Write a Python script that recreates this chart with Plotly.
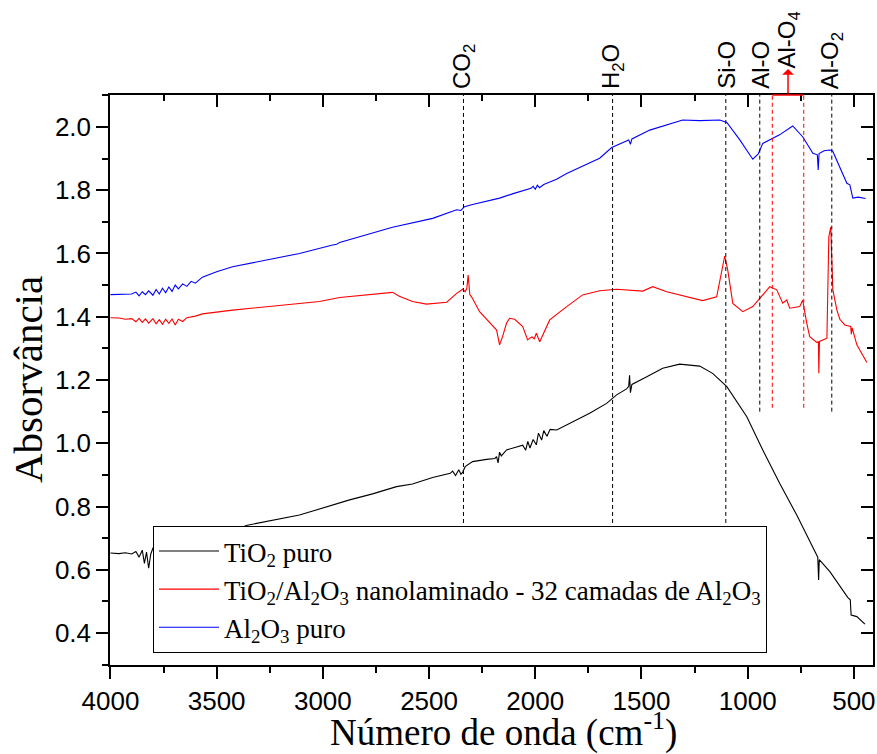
import plotly.graph_objects as go

# ---------------- data ----------------
w_tio2 = [4000, 3960, 3930, 3900, 3880, 3865, 3850, 3840, 3830, 3820,
          3810, 3800, 3780, 3760, 3600, 3355, 3110, 2954, 2874, 2766,
          2653, 2578, 2483, 2400, 2389, 2375, 2360, 2350, 2342, 2330,
          2295, 2229, 2190, 2182, 2175, 2168, 2160, 2135, 2100, 2059,
          2045, 2035, 2025, 2010, 1995, 1985, 1970, 1960, 1945, 1930,
          1899, 1824, 1744, 1664, 1617, 1570, 1560, 1556, 1552, 1545,
          1508, 1475, 1400, 1320, 1226, 1165, 1098, 1023, 1004, 929,
          849, 769, 693, 673, 670, 666, 663, 613, 566, 529,
          517, 513, 486, 448]
a_tio2 = [0.653, 0.651, 0.654, 0.650, 0.658, 0.640, 0.662, 0.620, 0.656, 0.605,
          0.650, 0.668, 0.655, 0.665, 0.690, 0.741, 0.773, 0.805, 0.821, 0.840,
          0.863, 0.871, 0.892, 0.905, 0.912, 0.898, 0.916, 0.902, 0.908, 0.926,
          0.942, 0.949, 0.952, 0.958, 0.938, 0.972, 0.960, 0.979, 0.985, 0.994,
          0.978, 1.006, 0.985, 1.012, 0.995, 1.032, 1.010, 1.040, 1.022, 1.044,
          1.042, 1.068, 1.095, 1.126, 1.153, 1.172, 1.180, 1.215, 1.160, 1.186,
          1.200, 1.210, 1.237, 1.250, 1.244, 1.221, 1.179, 1.105, 1.084, 0.979,
          0.873, 0.773, 0.673, 0.645, 0.640, 0.568, 0.632, 0.594, 0.547, 0.513,
          0.505, 0.457, 0.452, 0.428]

w_nano = [4000, 3960, 3930, 3900, 3880, 3865, 3850, 3835, 3820, 3800,
          3785, 3770, 3755, 3740, 3725, 3710, 3695, 3680, 3660, 3640,
          3600, 3567, 3425, 3265, 3016, 2921, 2800, 2672, 2640, 2578,
          2512, 2417, 2370, 2355, 2342, 2330, 2322, 2316, 2308, 2300,
          2262, 2182, 2168, 2154, 2135, 2121, 2097, 2059, 2036, 2025,
          2015, 2005, 1995, 1979, 1960, 1932, 1852, 1777, 1697, 1617,
          1494, 1447, 1381, 1287, 1212, 1146, 1122, 1108, 1094, 1070,
          1023, 976, 943, 896, 863, 835, 816, 802, 755, 741,
          722, 708, 675, 667, 665, 662, 627, 618, 609, 599,
          580, 566, 543, 515, 512, 508, 486, 439]
a_nano = [1.397, 1.396, 1.392, 1.394, 1.384, 1.395, 1.382, 1.393, 1.380, 1.394,
          1.378, 1.391, 1.376, 1.392, 1.379, 1.393, 1.374, 1.392, 1.385, 1.397,
          1.402, 1.409, 1.421, 1.432, 1.448, 1.461, 1.468, 1.477, 1.465, 1.448,
          1.440, 1.446, 1.474, 1.480, 1.487, 1.479, 1.490, 1.532, 1.470, 1.463,
          1.416, 1.358, 1.311, 1.337, 1.380, 1.395, 1.392, 1.369, 1.327, 1.333,
          1.336, 1.330, 1.348, 1.321, 1.350, 1.390, 1.432, 1.469, 1.482, 1.487,
          1.481, 1.495, 1.479, 1.463, 1.451, 1.463, 1.548, 1.592, 1.548, 1.442,
          1.416, 1.432, 1.458, 1.495, 1.485, 1.443, 1.453, 1.427, 1.432, 1.453,
          1.380, 1.337, 1.319, 1.321, 1.221, 1.322, 1.332, 1.653, 1.683, 1.485,
          1.421, 1.392, 1.374, 1.369, 1.345, 1.365, 1.311, 1.255]

w_al2o3 = [4000, 3960, 3930, 3900, 3880, 3865, 3850, 3835, 3820, 3800,
           3785, 3770, 3755, 3740, 3725, 3710, 3695, 3680, 3660, 3640,
           3620, 3600, 3567, 3500, 3425, 3265, 3110, 2954, 2935, 2921,
           2672, 2483, 2390, 2370, 2350, 2333, 2300, 2168, 2100, 2050,
           2020, 2010, 2000, 1990, 1980, 1960, 1900, 1852, 1780, 1697,
           1640, 1560, 1552, 1545, 1461, 1381, 1306, 1226, 1132, 1098,
           1037, 976, 950, 929, 882, 850, 788, 741, 693, 672,
           668, 664, 640, 613, 600, 566, 533, 519, 505, 480,
           445]
a_al2o3 = [1.470, 1.471, 1.473, 1.472, 1.478, 1.466, 1.479, 1.470, 1.482, 1.468,
           1.486, 1.472, 1.490, 1.476, 1.494, 1.480, 1.500, 1.488, 1.504, 1.496,
           1.512, 1.506, 1.525, 1.542, 1.558, 1.579, 1.600, 1.627, 1.629, 1.635,
           1.683, 1.711, 1.735, 1.738, 1.736, 1.748, 1.754, 1.775, 1.790, 1.800,
           1.806, 1.812, 1.803, 1.816, 1.808, 1.818, 1.835, 1.853, 1.875, 1.901,
           1.935, 1.959, 1.945, 1.962, 1.990, 2.006, 2.022, 2.020, 2.022, 2.014,
           1.959, 1.898, 1.915, 1.948, 1.964, 1.975, 2.003, 1.969, 1.917, 1.912,
           1.864, 1.916, 1.925, 1.927, 1.924, 1.875, 1.822, 1.817, 1.775, 1.778,
           1.774]

series_names = ["TiO<sub>2</sub> puro",
                "TiO<sub>2</sub>/Al<sub>2</sub>O<sub>3</sub> nanolaminado - 32 camadas de Al<sub>2</sub>O<sub>3</sub>",
                "Al<sub>2</sub>O<sub>3</sub> puro"]
series_colors = ["#000000", "#FF0000", "#0000FF"]

# band markers: label, position (cm-1), lower end of dashed line
band_labels = ["CO<sub>2</sub>", "H<sub>2</sub>O", "Si-O", "Al-O", "Al-O<sub>2</sub>"]
band_pos = [2338, 1636, 1103, 943, 604]
band_line_end = [0.748, 0.748, 0.748, 1.100, 1.100]
alo4_lines = [884, 736]
alo4_label = "Al-O<sub>4</sub>"

x_ticks = [4000, 3500, 3000, 2500, 2000, 1500, 1000, 500]
y_ticks = [0.4, 0.6, 0.8, 1.0, 1.2, 1.4, 1.6, 1.8, 2.0]
x_title = "Número de onda (cm<sup>-1</sup>)"
y_title = "Absorvância"

XR = [4002, 410]
YR = [0.299, 2.101]

SERIF = "Times New Roman, Liberation Serif, serif"
SANS = "Arial, Liberation Sans, sans-serif"

L, R, T, B = 110, 4, 95, 89
W, H = 877, 754
PW, PH = W - L - R, H - T - B

fig = go.Figure()
for w, a, name, col in zip([w_tio2, w_nano, w_al2o3], [a_tio2, a_nano, a_al2o3],
                           series_names, series_colors):
    fig.add_trace(go.Scatter(x=w, y=a, mode="lines", name=name,
                             line=dict(color=col, width=1.1)))
# helper (empty) trace so the mirrored top/right axes are drawn
fig.add_trace(go.Scatter(x=[], y=[], xaxis="x2", yaxis="y2",
                         showlegend=False, hoverinfo="skip"))

shapes = []
for p, yend in zip(band_pos, band_line_end):
    shapes.append(dict(type="line", xref="x", yref="y", x0=p, x1=p, y0=yend, y1=YR[1],
                       line=dict(color="black", width=1, dash="4px,3px")))
for p in alo4_lines:
    shapes.append(dict(type="line", xref="x", yref="y", x0=p, x1=p, y0=1.112, y1=YR[1],
                       line=dict(color="red", width=1, dash="4px,3px")))
shapes.append(dict(type="line", xref="x", yref="paper", x0=alo4_lines[0], x1=alo4_lines[1],
                   y0=1.0, y1=1.0, line=dict(color="red", width=1.5), layer="above"))

annotations = []
for lab, p in zip(band_labels, band_pos):
    annotations.append(dict(text=lab, x=p, xref="x", y=1, yref="paper", yanchor="bottom",
                            xanchor="center", textangle=-90, showarrow=False, yshift=4,
                            font=dict(family=SANS, size=24, color="black")))
mid = (alo4_lines[0] + alo4_lines[1]) / 2
annotations.append(dict(text=alo4_label, x=mid, xref="x", y=1, yref="paper", yanchor="bottom",
                        xanchor="center", textangle=-90, showarrow=False, yshift=24,
                        font=dict(family=SANS, size=24, color="black")))
annotations.append(dict(text="", x=mid, xref="x", y=1 + 26 / PH, yref="paper",
                        ax=0, ay=26, axref="pixel", ayref="pixel", showarrow=True,
                        arrowhead=1, arrowsize=1.3, arrowwidth=1.5, arrowcolor="red",
                        standoff=0, startstandoff=0))
# axis titles
annotations.append(dict(text=x_title, x=(503 - L) / PW, xref="paper",
                        y=(H - B - 730) / PH, yref="paper", xanchor="center", yanchor="middle",
                        showarrow=False, font=dict(family=SERIF, size=37, color="black")))
annotations.append(dict(text=y_title, x=(28 - L) / PW, xref="paper",
                        y=(H - B - 380) / PH, yref="paper", xanchor="center", yanchor="middle",
                        textangle=-90, showarrow=False,
                        font=dict(family=SERIF, size=41, color="black")))

axis_common = dict(showgrid=False, zeroline=False, linecolor="black", linewidth=1.5,
                   tickcolor="black", tickwidth=1.5, ticklen=12, mirror=False,
                   automargin=False)

fig.update_layout(
    width=W, height=H,
    margin=dict(l=L, r=R, t=T, b=B),
    plot_bgcolor="white", paper_bgcolor="white",
    shapes=shapes, annotations=annotations,
    xaxis=dict(range=XR, tickvals=x_ticks, ticks="outside",
               minor=dict(dtick=250, tick0=0, ticks="outside", ticklen=6, tickwidth=1.5, tickcolor="black"),
               tickfont=dict(family=SANS, size=26, color="black"),
               **axis_common),
    yaxis=dict(range=YR, tickvals=y_ticks, tickformat=".1f", ticks="outside",
               minor=dict(dtick=0.1, tick0=0, ticks="outside", ticklen=6, tickwidth=1.5, tickcolor="black"),
               tickfont=dict(family=SANS, size=26, color="black"),
               **axis_common),
    xaxis2=dict(range=XR, overlaying="x", side="top", anchor="y2", tickvals=x_ticks,
                ticks="inside", showticklabels=False,
                minor=dict(dtick=250, tick0=0, ticks="inside", ticklen=6, tickwidth=1.5, tickcolor="black"),
                **axis_common),
    yaxis2=dict(range=YR, overlaying="y", side="right", anchor="x2", tickvals=y_ticks,
                ticks="inside", showticklabels=False,
                minor=dict(dtick=0.1, tick0=0, ticks="inside", ticklen=6, tickwidth=1.5, tickcolor="black"),
                **axis_common),
    legend=dict(x=(153 - L) / PW, y=(H - B - 526) / PH, xanchor="left", yanchor="top",
                bgcolor="white", bordercolor="black", borderwidth=1,
                font=dict(family=SERIF, size=27, color="black"), itemwidth=60,
                tracegroupgap=0),
    showlegend=True,
)

# remove the browser's default 8px page margin so the figure sits at (0, 0)
fig.write_html("out.html", config={"displayModeBar": False},
               post_script="document.body.style.margin='0px';")
